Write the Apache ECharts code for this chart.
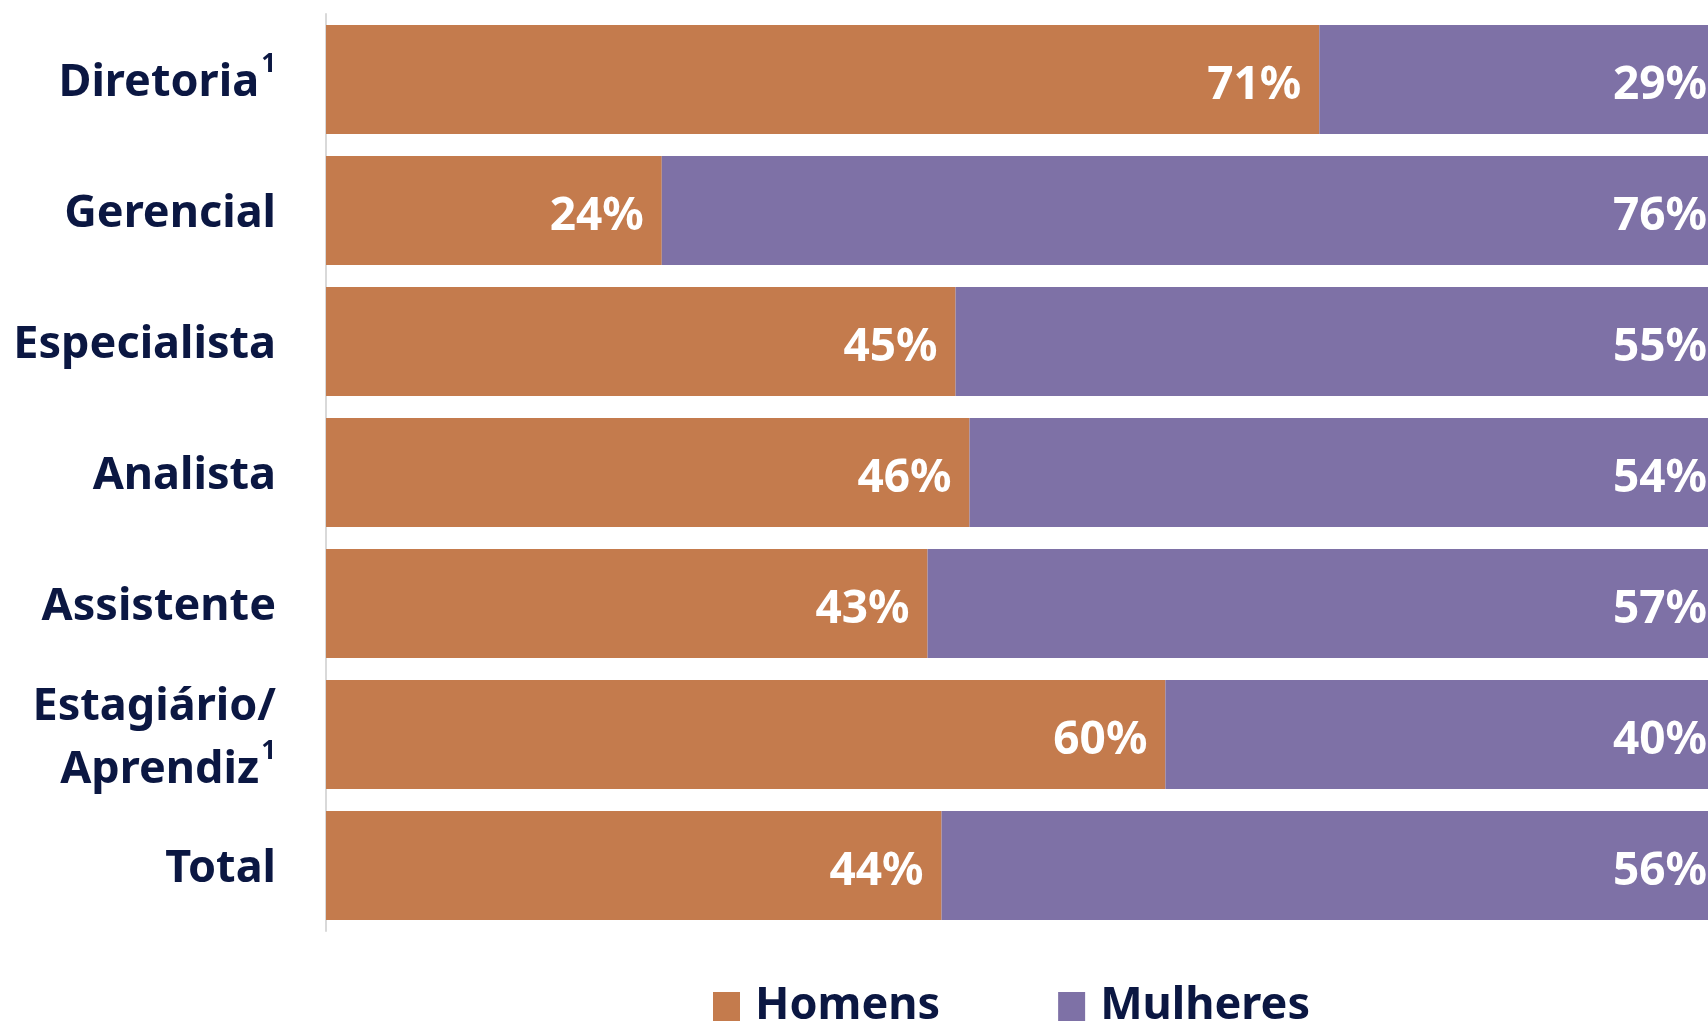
<!DOCTYPE html>
<html>
<head>
<meta charset="utf-8">
<style>
  html, body { margin: 0; padding: 0; background: #ffffff; }
  #chart { width: 1708px; height: 1022px; }
</style>
<script src="https://cdn.jsdelivr.net/npm/echarts@6/dist/echarts.min.js"></script>
</head>
<body>
<div id="chart"></div>
<script>
// Job levels (top to bottom) and gender share in percent
const categories = ['Diretoria', 'Gerencial', 'Especialista', 'Analista', 'Assistente', 'Estagiário/\nAprendiz', 'Total'];
const footnoted = ['Diretoria', 'Estagiário/\nAprendiz'];
const homens = [71, 24, 45, 46, 43, 60, 44];
const mulheres = [29, 76, 55, 54, 57, 40, 56];

const NAVY = '#0b1742';
const ORANGE = '#c47b4d';
const PURPLE = '#7e71a6';
const FONT = '"Noto Sans", "Open Sans", sans-serif';

const chart = echarts.init(document.getElementById('chart'));

const valueLabel = {
  show: true, position: 'insideRight', distance: 18, offset: [0, 6],
  formatter: '{c}%', color: '#ffffff',
  fontFamily: FONT, fontWeight: 'bold', fontSize: 46
};

chart.setOption({
  animation: false,
  // the plot runs a little past the right edge of the canvas
  grid: { left: 326, width: 1399, top: 14, bottom: 91, containLabel: false, outerBoundsMode: 'none' },
  xAxis: {
    type: 'value', min: 0, max: 100,
    show: false
  },
  yAxis: {
    type: 'category',
    inverse: true,
    data: categories,
    axisLine: { show: true, lineStyle: { color: '#d9d9d9', width: 2 } },
    axisTick: { show: false },
    axisLabel: {
      margin: 50,
      padding: [8, 0, 0, 0],
      fontFamily: FONT,
      formatter: function (v) {
        const lines = v.split('\n');
        return lines.map(function (l, i) {
          const last = i === lines.length - 1;
          return '{t|' + l + '}' + (last && footnoted.indexOf(v) >= 0 ? '{s|1}' : '');
        }).join('\n');
      },
      rich: {
        t: { fontFamily: FONT, fontWeight: 'bold', fontSize: 45, color: NAVY, lineHeight: 63 },
        s: { fontFamily: FONT, fontWeight: 'bold', fontSize: 26, color: NAVY, lineHeight: 63, verticalAlign: 'top', padding: [0, 0, 24, 2] }
      }
    }
  },
  legend: {
    top: 979, left: 708,
    itemWidth: 27, itemHeight: 29, itemGap: 118,
    icon: 'rect',
    textStyle: { fontFamily: FONT, fontWeight: 'bold', fontSize: 45, color: NAVY, padding: [0, 0, 10, 10] },
    data: ['Homens', 'Mulheres']
  },
  series: [
    {
      name: 'Homens', type: 'bar', stack: 'total',
      data: homens, barWidth: 109,
      itemStyle: { color: ORANGE },
      label: valueLabel
    },
    {
      name: 'Mulheres', type: 'bar', stack: 'total',
      data: mulheres, barWidth: 109,
      itemStyle: { color: PURPLE },
      label: valueLabel
    }
  ]
});
</script>
</body>
</html>
